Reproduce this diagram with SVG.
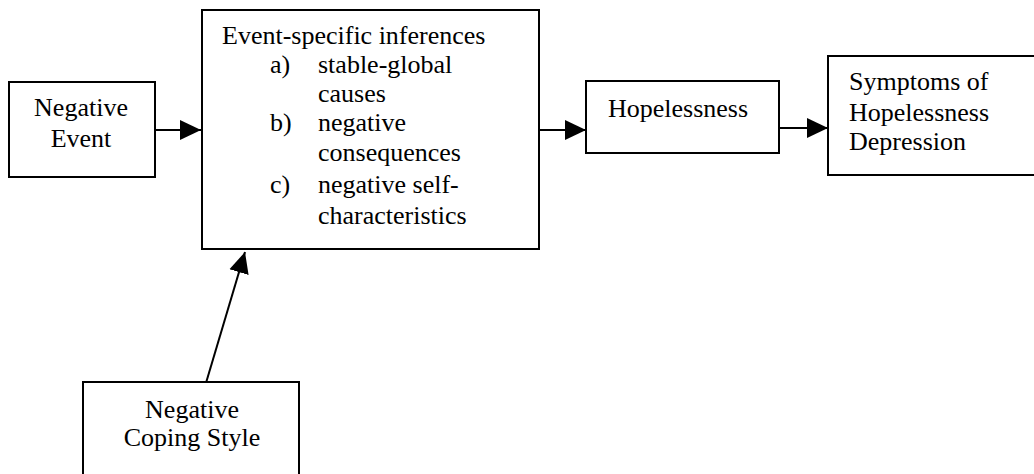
<svg xmlns="http://www.w3.org/2000/svg" width="1034" height="474" viewBox="0 0 1034 474">
  <style>
    .box { fill: #ffffff; stroke: #000000; stroke-width: 2; }
    .lbl { font-family: "Liberation Serif", "Times New Roman", serif; font-size: 26px; fill: #000000; }
    .mid { text-anchor: middle; }
    .edge { stroke: #000000; stroke-width: 2; fill: none; marker-end: url(#head); }
  </style>
  <defs>
    <marker id="head" markerUnits="userSpaceOnUse" markerWidth="22" markerHeight="22" viewBox="0 0 22 22" refX="21" refY="11" orient="auto">
      <path d="M0,1 L21,11 L0,21 Z" fill="#000000"/>
    </marker>
  </defs>

  <rect width="1034" height="474" fill="#ffffff"/>

  <!-- connectors -->
  <g id="connectors">
    <line class="edge" x1="155" y1="130" x2="201" y2="130"/>
    <line class="edge" x1="539" y1="130" x2="586" y2="130"/>
    <line class="edge" x1="779" y1="128" x2="828" y2="128"/>
    <line class="edge" x1="203" y1="393" x2="245" y2="252"/>
  </g>

  <g id="negative-event">
    <rect class="box" x="9" y="82" width="146" height="95"/>
    <text class="lbl mid" x="81" y="116">Negative</text>
    <text class="lbl mid" x="81" y="147">Event</text>
  </g>

  <g id="inferences">
    <rect class="box" x="202" y="10" width="337" height="239"/>
    <text class="lbl" x="222" y="44">Event-specific inferences</text>
    <text class="lbl" x="270" y="73">a)</text>
    <text class="lbl" x="318" y="73">stable-global</text>
    <text class="lbl" x="318" y="102">causes</text>
    <text class="lbl" x="270" y="131">b)</text>
    <text class="lbl" x="318" y="131">negative</text>
    <text class="lbl" x="318" y="161">consequences</text>
    <text class="lbl" x="270" y="193">c)</text>
    <text class="lbl" x="318" y="193">negative self-</text>
    <text class="lbl" x="318" y="224">characteristics</text>
  </g>

  <g id="hopelessness">
    <rect class="box" x="586" y="81" width="193" height="72"/>
    <text class="lbl" x="608" y="117">Hopelessness</text>
  </g>

  <g id="symptoms">
    <rect class="box" x="828" y="56" width="220" height="119"/>
    <text class="lbl" x="849" y="90">Symptoms of</text>
    <text class="lbl" x="849" y="121">Hopelessness</text>
    <text class="lbl" x="849" y="150">Depression</text>
  </g>

  <g id="coping-style">
    <rect class="box" x="83" y="382" width="216" height="110"/>
    <text class="lbl mid" x="192" y="418">Negative</text>
    <text class="lbl mid" x="192" y="446">Coping Style</text>
  </g>
</svg>
